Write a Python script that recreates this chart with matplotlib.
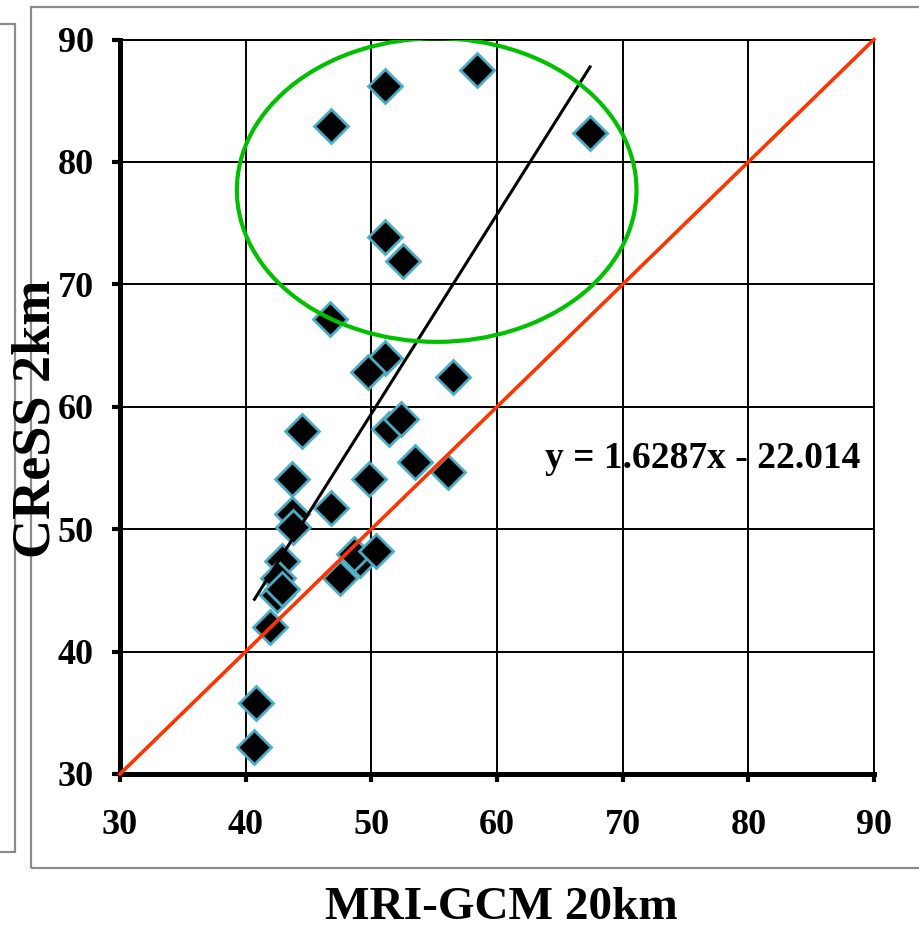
import matplotlib
matplotlib.use('Agg')
import matplotlib.pyplot as plt
from matplotlib.patches import Ellipse, Rectangle

# Werte
mri_gcm = [58.4, 51.1, 67.4, 46.8, 51.1, 52.5, 46.7, 51.1, 49.7, 56.5,
           51.4, 52.4, 44.5, 53.5, 56.1, 43.7, 49.8, 43.7, 43.8, 46.8,
           42.9, 42.6, 42.5, 42.9, 47.5, 49.1, 48.6, 50.4, 41.9, 40.8, 40.7]
cress = [87.5, 86.2, 82.4, 82.9, 73.9, 71.9, 67.2, 64.0, 62.8, 62.4,
         58.2, 59.0, 58.0, 55.5, 54.7, 54.1, 54.1, 51.2, 50.2, 51.7,
         47.4, 46.0, 44.6, 45.1, 46.0, 47.5, 48.0, 48.2, 42.0, 35.8, 32.2]

# Trendlinie aus der Gleichung
slope = 1.6287
intercept = -22.014
ticks = [30, 40, 50, 60, 70, 80, 90]

# Ellipse um die oberen Punkte
ell_center = (55.2, 77.7)
ell_width = 31.8
ell_height = 24.8

plt.rcParams['font.family'] = ['Liberation Serif', 'DejaVu Serif']
plt.rcParams['font.weight'] = 'bold'

fig = plt.figure(figsize=(9.19, 9.36), dpi=100)

# graue Rahmen (Excel-Diagrammbereich)
fig.patches.append(Rectangle((31 / 919, 1 - 868 / 936), 1.0, (868 - 7) / 936,
                             transform=fig.transFigure, fill=False,
                             edgecolor='#8c8c8c', linewidth=1.6, zorder=0))
fig.patches.append(Rectangle((-0.05, 1 - 852 / 936), 0.05 + 15 / 919, (852 - 24) / 936,
                             transform=fig.transFigure, fill=False,
                             edgecolor='#8c8c8c', linewidth=1.6, zorder=0))

ax = fig.add_axes([120 / 919, 1 - 774 / 936, (874 - 120) / 919, (774 - 39.5) / 936])
ax.set_xlim(30, 90)
ax.set_ylim(30, 90)
ax.set_xticks(ticks)
ax.set_yticks(ticks)
ax.grid(True, color='black', linewidth=1.4)
ax.set_axisbelow(True)

for side in ['left', 'bottom']:
    ax.spines[side].set_linewidth(3.6)
for side in ['top', 'right']:
    ax.spines[side].set_linewidth(1.4)

ax.tick_params(axis='both', direction='out', length=6, width=3, labelsize=26)
ax.tick_params(axis='y', pad=13)
ax.tick_params(axis='x', pad=19)
for lab in ax.get_xticklabels() + ax.get_yticklabels():
    lab.set_fontweight('bold')

ax.plot(mri_gcm, cress, linestyle='none', marker='D', markersize=17,
        markerfacecolor='black', markeredgecolor='#4bacc6', markeredgewidth=2.0,
        zorder=3)

x_fit = [min(mri_gcm), max(mri_gcm)]
y_fit = [slope * v + intercept for v in x_fit]
ax.plot(x_fit, y_fit, color='black', linewidth=2.2, zorder=4)

ax.plot([30, 90], [30, 90], color='#ff3300', linewidth=2.6, zorder=4,
        clip_on=False)

ax.add_patch(Ellipse(ell_center, ell_width, ell_height, fill=False,
                     edgecolor='#00c000', linewidth=3.0, zorder=5))

ax.text(63.8, 55.8, 'y = 1.6287x - 22.014', fontsize=27, fontweight='bold',
        va='center', ha='left', zorder=6)

fig.text(501 / 919, 1 - 908 / 936, 'MRI-GCM 20km', fontsize=34,
         fontweight='bold', ha='center', va='center')
fig.text(37 / 919, 1 - 419 / 936, 'CReSS 2km', fontsize=39,
         fontweight='bold', ha='center', va='center', rotation=90)

plt.savefig('out.png', dpi=100)
